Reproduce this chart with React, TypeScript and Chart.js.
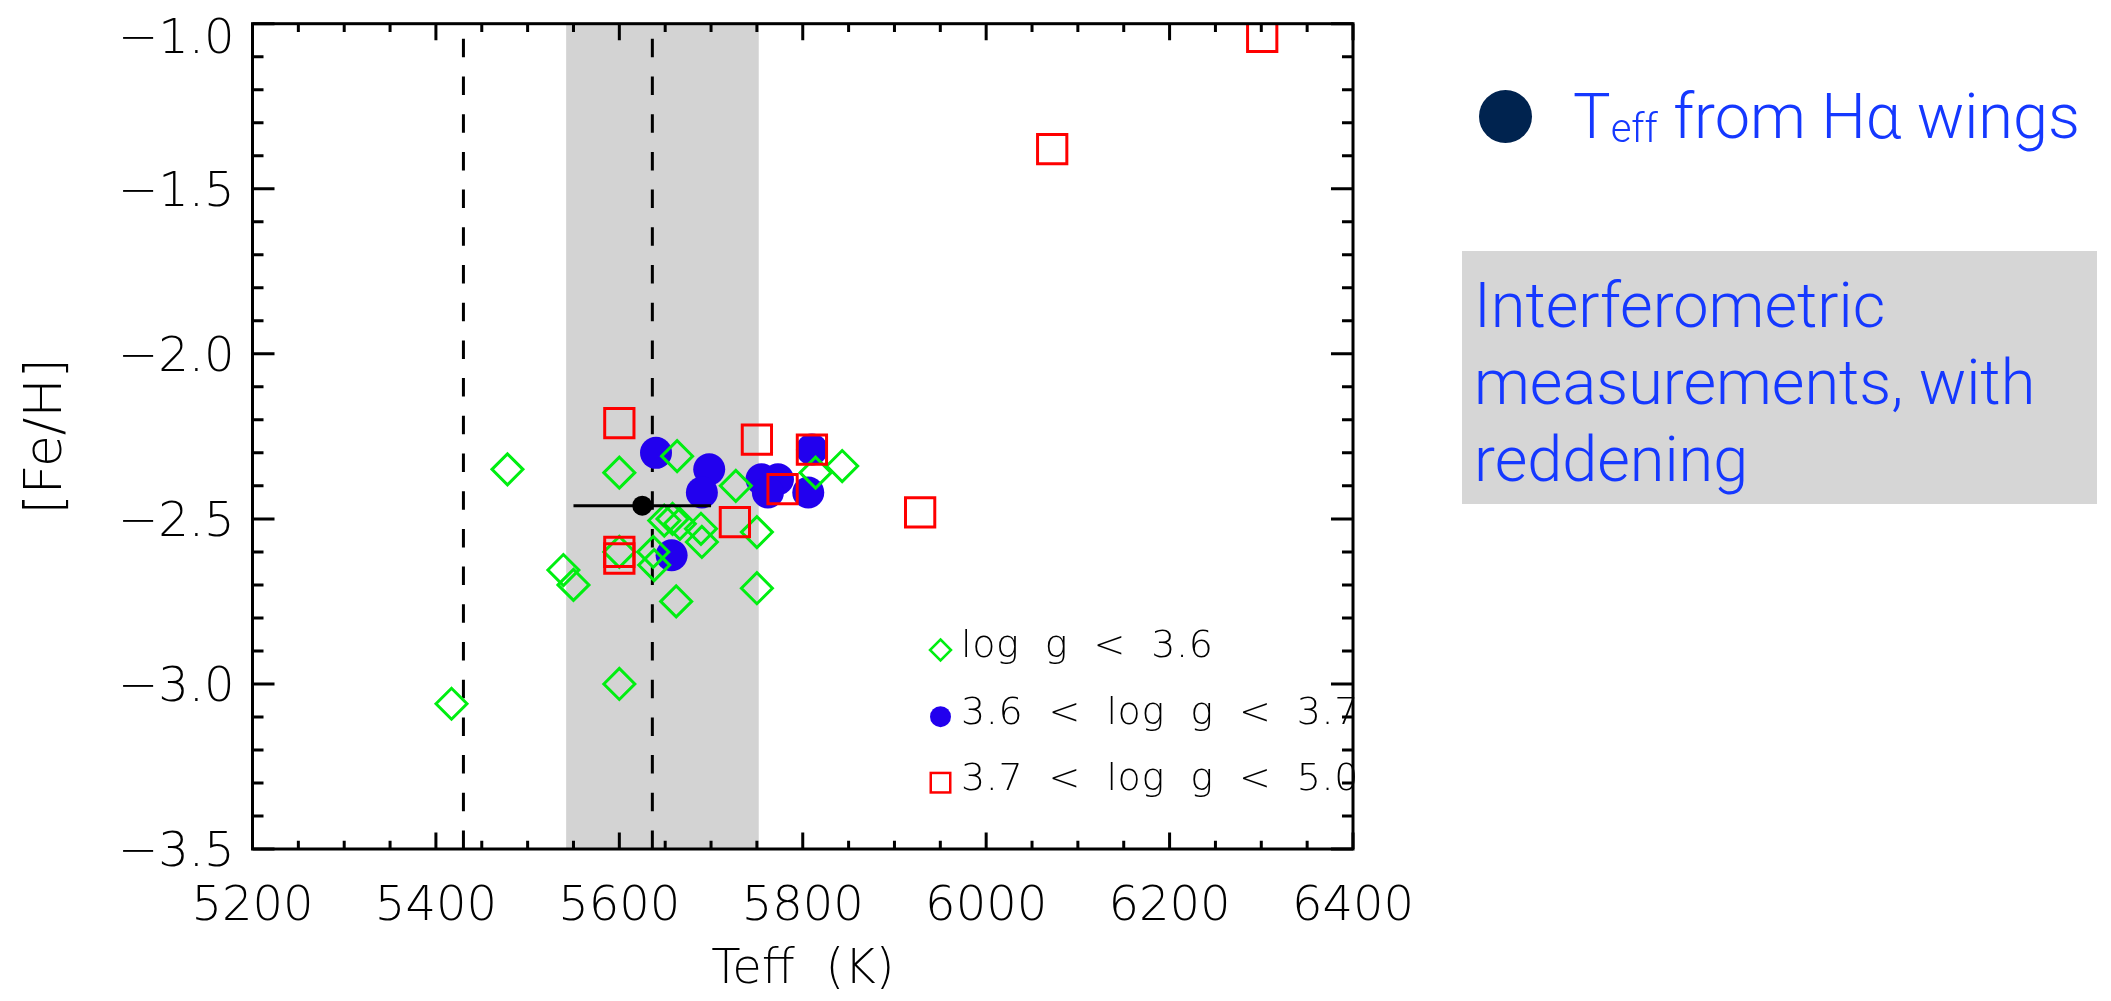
import React, { useEffect, useRef } from 'react';
import { Chart, registerables } from 'chart.js';

Chart.register(...registerables);

// ---- axis ranges / ticks ----
const X_MIN = 5200;
const X_MAX = 6400;
const Y_MIN = -3.5;
const Y_MAX = -1.0;
const X_MAJOR = 200;
const X_MINOR = 50;
const Y_MAJOR = 0.5;
const Y_MINOR = 0.1;

// ---- data: log g < 3.6 (green diamonds) ----
const lowGTeff = [5417, 5478, 5539, 5550, 5600, 5600, 5600, 5637, 5638, 5649, 5658, 5666, 5663, 5662, 5689, 5690, 5727, 5750, 5750, 5814, 5843];
const lowGFeH = [-3.06, -2.35, -2.655, -2.70, -2.36, -2.60, -3.00, -2.60, -2.64, -2.505, -2.50, -2.515, -2.31, -2.75, -2.53, -2.57, -2.40, -2.54, -2.71, -2.36, -2.34];

// ---- data: 3.6 < log g < 3.7 (blue circles) ----
const midGTeff = [5640, 5698, 5690, 5755, 5773, 5762, 5806, 5810, 5657];
const midGFeH = [-2.30, -2.35, -2.42, -2.38, -2.38, -2.42, -2.42, -2.29, -2.61];

// ---- data: 3.7 < log g < 5.0 (red squares) ----
const highGTeff = [5600, 5750, 5810, 5778, 5726, 5928, 5600, 5600, 6072, 6301];
const highGFeH = [-2.21, -2.26, -2.29, -2.41, -2.51, -2.48, -2.60, -2.62, -1.38, -1.04];

// ---- data: Teff from H-alpha wings (black point with error bar) ----
const halphaTeff = [5625];
const halphaFeH = [-2.46];
const halphaErr = [75];

// ---- shaded interferometric band and dashed reference lines ----
const bandRange = [5542, 5752];
const dashedTeff = [5430, 5636];

const legendLabels = ['log  g  <  3.6', '3.6  <  log  g  <  3.7', '3.7  <  log  g  <  5.0'];

const GREEN = '#00ee11';
const BLUE = '#2200ee';
const RED = '#ff0000';
const TICK_FONT = 'DejaVu Sans';
const TICK_WEIGHT: any = '200';

const toPts = (xs: number[], ys: number[]) => xs.map((t, i) => ({ x: t, y: ys[i] }));

const fmtY = (v: number) => (v < 0 ? '\u2212' : '') + Math.abs(v).toFixed(1);

const bandPlugin = {
  id: 'band',
  beforeDatasetsDraw(chart: any) {
    const { ctx, chartArea, scales } = chart;
    const x0 = scales.x.getPixelForValue(bandRange[0]);
    const x1 = scales.x.getPixelForValue(bandRange[1]);
    ctx.save();
    ctx.fillStyle = '#d3d3d3';
    ctx.fillRect(x0, chartArea.top, x1 - x0, chartArea.bottom - chartArea.top);
    ctx.restore();
  },
};

const framePlugin = {
  id: 'frame',
  afterDatasetsDraw(chart: any) {
    const { ctx, chartArea, scales } = chart;
    const { left, right, top, bottom } = chartArea;
    const h = bottom - top;
    const w = right - left;
    ctx.save();
    ctx.strokeStyle = '#000';
    ctx.lineWidth = 3;
    ctx.lineCap = 'butt';
    ctx.beginPath();
    const nx = Math.round((X_MAX - X_MIN) / X_MINOR);
    const per = Math.round(X_MAJOR / X_MINOR);
    for (let i = 0; i <= nx; i++) {
      const v = X_MIN + i * X_MINOR;
      const px = scales.x.getPixelForValue(v);
      const len = i % per === 0 ? 0.02 * h : 0.01 * h;
      ctx.moveTo(px, bottom);
      ctx.lineTo(px, bottom - len);
      ctx.moveTo(px, top);
      ctx.lineTo(px, top + len);
    }
    const ny = Math.round((Y_MAX - Y_MIN) / Y_MINOR);
    const perY = Math.round(Y_MAJOR / Y_MINOR);
    for (let i = 0; i <= ny; i++) {
      const v = Y_MIN + i * Y_MINOR;
      const py = scales.y.getPixelForValue(v);
      const len = i % perY === 0 ? 0.02 * w : 0.01 * w;
      ctx.moveTo(left, py);
      ctx.lineTo(left + len, py);
      ctx.moveTo(right, py);
      ctx.lineTo(right - len, py);
    }
    ctx.stroke();
    ctx.strokeRect(left, top, w, h);
    ctx.restore();
  },
};

const legendPlugin = {
  id: 'innerLegend',
  afterDraw(chart: any) {
    const { ctx } = chart;
    const mx = 940.5;
    const rows = [650, 716.7, 782.7];
    ctx.save();
    // diamond
    ctx.lineWidth = 2.5;
    ctx.strokeStyle = GREEN;
    ctx.beginPath();
    const r = 10.5;
    ctx.moveTo(mx, rows[0] - r);
    ctx.lineTo(mx + r, rows[0]);
    ctx.lineTo(mx, rows[0] + r);
    ctx.lineTo(mx - r, rows[0]);
    ctx.closePath();
    ctx.stroke();
    // dot
    ctx.fillStyle = BLUE;
    ctx.beginPath();
    ctx.arc(mx, rows[1], 10.5, 0, Math.PI * 2);
    ctx.fill();
    // square
    ctx.strokeStyle = RED;
    ctx.strokeRect(mx - 9.75, rows[2] - 9.75, 19.5, 19.5);
    // labels
    ctx.fillStyle = '#000';
    ctx.font = `200 38px "${TICK_FONT}"`;
    (ctx as any).letterSpacing = '0.6px';
    ctx.textAlign = 'left';
    ctx.textBaseline = 'alphabetic';
    legendLabels.forEach((t, i) => ctx.fillText(t, 961, rows[i] + 7));
    ctx.restore();
  },
};

function PlotCanvas() {
  const ref = useRef<HTMLCanvasElement | null>(null);
  useEffect(() => {
    if (!ref.current) return;
    const chart = new Chart(ref.current, {
      type: 'scatter',
      data: {
        datasets: [
          {
            type: 'line',
            label: 'Halpha error',
            data: [
              { x: halphaTeff[0] - halphaErr[0], y: halphaFeH[0] },
              { x: halphaTeff[0] + halphaErr[0], y: halphaFeH[0] },
            ],
            borderColor: '#000',
            borderWidth: 3,
            pointRadius: 0,
            order: 0,
          } as any,
          {
            label: 'Teff from Halpha wings',
            data: toPts(halphaTeff, halphaFeH),
            pointStyle: 'circle',
            pointRadius: 10,
            backgroundColor: '#000',
            borderWidth: 0,
            order: 0,
          },
          {
            label: legendLabels[2],
            data: toPts(highGTeff, highGFeH),
            pointStyle: 'rect',
            pointRadius: 20.7,
            borderColor: RED,
            backgroundColor: 'rgba(0,0,0,0)',
            borderWidth: 3,
            order: 1,
          },
          {
            label: legendLabels[0],
            data: toPts(lowGTeff, lowGFeH),
            pointStyle: 'rectRot',
            pointRadius: 15.5,
            borderColor: GREEN,
            backgroundColor: 'rgba(0,0,0,0)',
            borderWidth: 3,
            order: 2,
          },
          {
            label: legendLabels[1],
            data: toPts(midGTeff, midGFeH),
            pointStyle: 'circle',
            pointRadius: 16,
            backgroundColor: BLUE,
            borderWidth: 0,
            order: 3,
          },
          ...dashedTeff.map(
            (t) =>
              ({
                type: 'line',
                label: 'dashed ' + t,
                data: [
                  { x: t, y: Y_MIN },
                  { x: t, y: Y_MAX },
                ],
                borderColor: '#000',
                borderWidth: 3,
                borderDash: [18.5, 19.2],
                pointRadius: 0,
                order: 4,
              }) as any
          ),
        ],
      },
      options: {
        animation: false,
        responsive: false,
        events: [],
        layout: { padding: { top: 16, right: 758, bottom: 0, left: 0 } },
        plugins: { legend: { display: false }, tooltip: { enabled: false } },
        scales: {
          x: {
            type: 'linear',
            min: X_MIN,
            max: X_MAX,
            grid: { display: false, drawTicks: false },
            border: { display: false },
            ticks: {
              stepSize: X_MAJOR,
              autoSkip: false,
              maxRotation: 0,
              padding: 30,
              color: '#000',
              font: { family: TICK_FONT, size: 48, weight: TICK_WEIGHT },
              callback: (v: any) => String(v),
            },
            title: {
              display: true,
              text: 'Teff  (K)',
              color: '#000',
              font: { family: TICK_FONT, size: 48, weight: TICK_WEIGHT },
              padding: { top: 0, bottom: 2 },
            },
            afterFit: (s: any) => {
              s.height = 152;
              s.paddingLeft = 0;
              s.paddingRight = 0;
            },
          },
          y: {
            type: 'linear',
            min: Y_MIN,
            max: Y_MAX,
            grid: { display: false, drawTicks: false },
            border: { display: false },
            ticks: {
              stepSize: Y_MAJOR,
              autoSkip: false,
              padding: 18,
              labelOffset: 5,
              color: '#000',
              font: (c: any) =>
                c.tick && Math.abs(c.tick.value - Y_MAX) < 1e-9
                  ? { family: TICK_FONT, size: 48, weight: TICK_WEIGHT, lineHeight: 0.5 }
                  : { family: TICK_FONT, size: 48, weight: TICK_WEIGHT, lineHeight: 1.2 },
              callback: (v: any) => {
                const n = Number(v);
                return Math.abs(n - Y_MAX) < 1e-9 ? ['', fmtY(n)] : fmtY(n);
              },
            } as any,
            title: {
              display: true,
              text: '[Fe/H]',
              color: '#000',
              font: { family: TICK_FONT, size: 52, weight: TICK_WEIGHT },
              padding: { top: 16, bottom: 0 },
            },
            afterFit: (s: any) => {
              s.width = 252.5;
              s.paddingTop = 0;
              s.paddingBottom = 0;
            },
          },
        },
      },
      plugins: [bandPlugin, framePlugin, legendPlugin],
    });
    return () => chart.destroy();
  }, []);
  return <canvas ref={ref} width={2111} height={1001} style={{ display: 'block' }} />;
}

export default function App() {
  const blue = '#1538ff';
  const panelFont = 'Roboto, "Liberation Sans", Arial, sans-serif';
  return (
    <div style={{ position: 'absolute', left: 0, top: 0, width: 2111, height: 1001, background: '#fff', overflow: 'hidden' }}>
      <PlotCanvas />
      <div
        style={{
          position: 'absolute',
          left: 1478.5,
          top: 89.5,
          width: 53,
          height: 53,
          borderRadius: '50%',
          background: '#00234f',
        }}
      />
      <div
        style={{
          position: 'absolute',
          left: 1573,
          top: 78,
          fontFamily: panelFont,
          fontWeight: 300,
          fontSize: 63,
          lineHeight: '77px',
          color: blue,
          whiteSpace: 'nowrap',
        }}
      >
        T<span style={{ fontSize: 40, position: 'relative', top: 4, lineHeight: 0 }}>eff</span> from Hα wings
      </div>
      <div
        style={{
          position: 'absolute',
          left: 1462,
          top: 251,
          width: 635,
          height: 253,
          background: '#d6d6d6',
        }}
      />
      <div
        style={{
          position: 'absolute',
          left: 1474,
          top: 266.7,
          fontFamily: panelFont,
          fontWeight: 300,
          fontSize: 63,
          lineHeight: '77px',
          color: blue,
          whiteSpace: 'nowrap',
        }}
      >
        Interferometric
        <br />
        measurements, with
        <br />
        reddening
      </div>
    </div>
  );
}
